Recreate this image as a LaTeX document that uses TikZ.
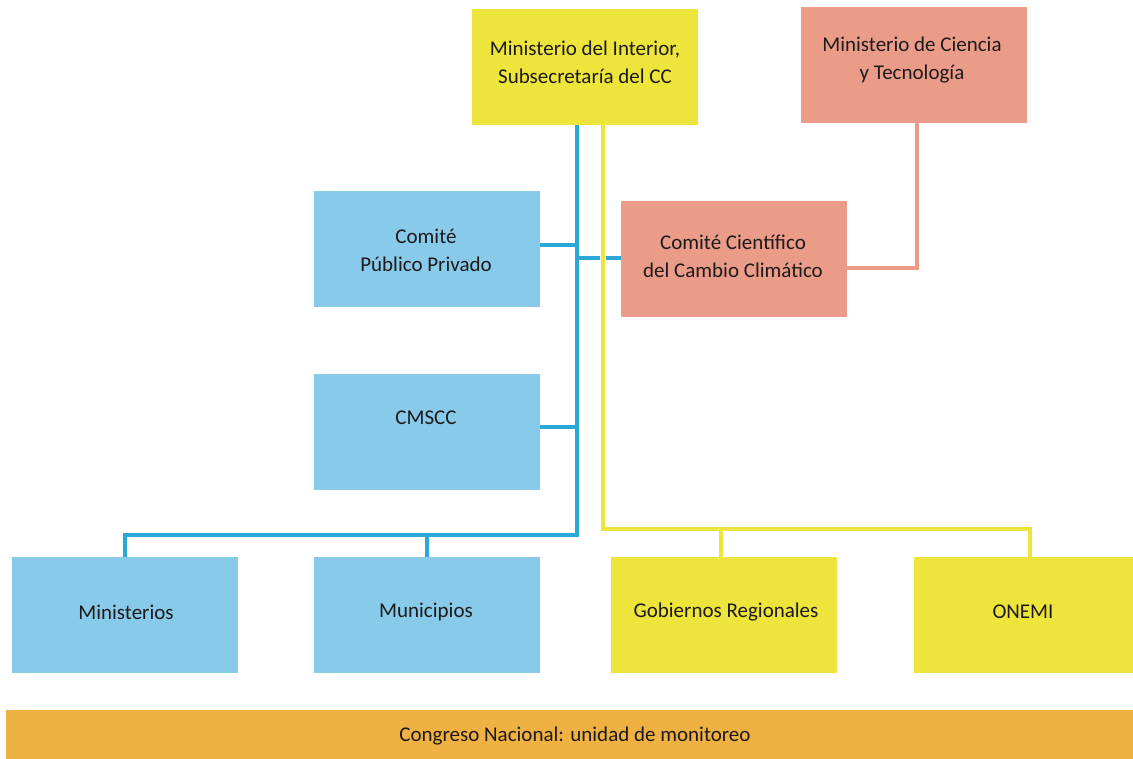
\documentclass[tikz,border=0pt]{standalone}
\usepackage{fontspec}
\setmainfont{Carlito}
\definecolor{yel}{HTML}{EDE43C}
\definecolor{bbox}{HTML}{87CAE9}
\definecolor{bline}{HTML}{2AA8D8}
\definecolor{salmon}{HTML}{EB9C89}
\definecolor{orng}{HTML}{EFB141}
\definecolor{ink}{HTML}{1E1A1B}
\begin{document}
\begin{tikzpicture}[x=1pt,y=-1pt,
  box/.style={draw=none,minimum width=226pt,minimum height=116pt,inner sep=0pt,outer sep=0pt},
  txt/.style={text=ink,align=center,font=\fontsize{21}{28}\selectfont,inner sep=0pt},
  bl/.style={draw=bline,line width=4pt},
  yl/.style={draw=yel,line width=4pt},
  rl/.style={draw=salmon,line width=4pt}]
\useasboundingbox (0,0) rectangle (1133,759);
% boxes
\node[box,fill=yel] (mi) at (585,67.5) {};
\node[box,fill=salmon] (mc) at (913.5,65.5) {};
\node[box,fill=bbox] (cpp) at (427,249) {};
\node[box,fill=salmon] (ccc) at (733.5,259) {};
\node[box,fill=bbox] (cms) at (427,432) {};
\node[box,fill=bbox] (min) at (125,615) {};
\node[box,fill=bbox] (mun) at (427,615) {};
\node[box,fill=yel] (gob) at (724,615) {};
\node[box,fill=yel] (one) at (1027,615) {};
\node[draw=none,fill=orng,minimum width=1127pt,minimum height=49pt,inner sep=0pt] (cong) at (569.5,734.5) {};
% texts
\node[txt] (mit) at (585,62) {Ministerio del Interior,\\Subsecretaría del CC};
\node[txt] (mct) at (912,60) {Ministerio de Ciencia\\y Tecnología};
\node[txt] (cppt) at (426,250) {Comité\\Público Privado};
\node[txt] (ccct) at (733,256.5) {Comité Científico\\del Cambio Climático};
\node[txt] (cmst) at (426,418) {CMSCC};
\node[txt] (mint) at (126,612) {Ministerios};
\node[txt] (munt) at (426,612) {Municipios};
\node[txt] (gobt) at (726,612) {Gobiernos Regionales};
\node[txt] (onet) at (1023,612) {ONEMI};
\node[txt] (congt) at (575,736) {Congreso Nacional: unidad de monitoreo};
% coordinates
\coordinate (bt) at (577,535);
\coordinate (yt) at (603,529);
\coordinate (gobb) at (721,529);
\coordinate (oneb) at (1030,529);
% blue connectors
\draw[bl] (mi.south -| bt) -- (bt) -| (min.north);
\draw[bl] (bt -| mun.north) -- (mun.north);
\draw[bl] (cpp.east |- 0,245) -- (577,245);
\draw[bl] (cms.east |- 0,427) -- (577,427);
\draw[bl] (577,258) -- (ccc.west |- 0,258);
% yellow connectors
\draw[white,line width=6pt] (603,252) -- (603,264);
\draw[yl] (mi.south -| yt) -- (yt) -- (oneb) -- (one.north -| oneb);
\draw[yl] (gobb) -- (gob.north -| gobb);
% red connector
\draw[rl] (ccc.east |- 0,268) -| (mc.south -| 917,0);
\end{tikzpicture}
\end{document}
